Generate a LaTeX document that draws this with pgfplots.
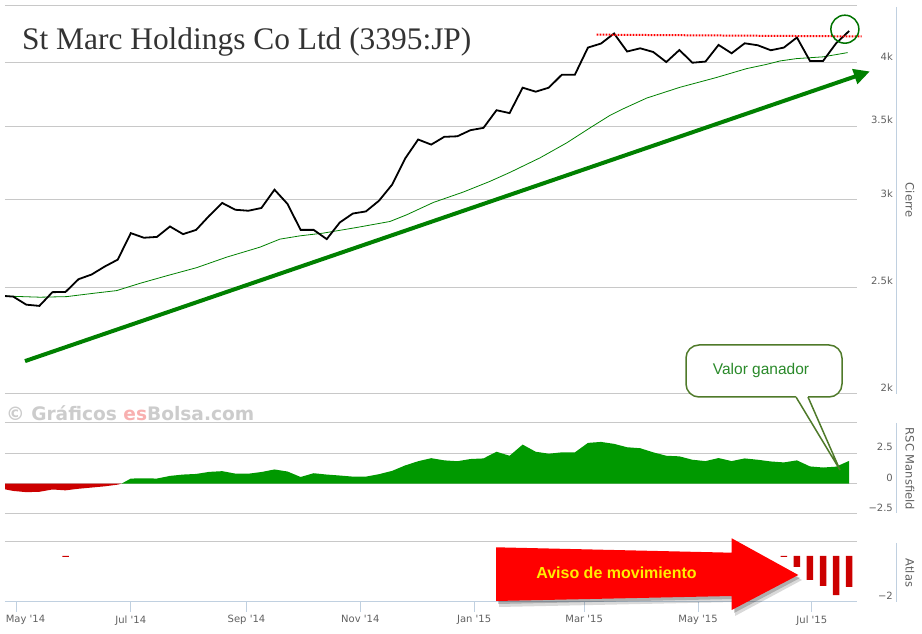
\documentclass[border=0pt]{standalone}
\usepackage{fontspec}
\setmainfont{DejaVu Sans}
\newfontfamily\serifT{Liberation Serif}
\newfontfamily\arial{Liberation Sans}
\usepackage{pgfplots}
\pgfplotsset{compat=1.18}
\usetikzlibrary{arrows.meta}
\definecolor{gridc}{HTML}{C8C8C8}
\definecolor{axisc}{HTML}{C0D0E0}
\definecolor{labc}{HTML}{606060}
\definecolor{titc}{HTML}{333333}
\definecolor{pgreen}{HTML}{008000}
\definecolor{rscG}{HTML}{009900}
\definecolor{rscR}{HTML}{CC0000}
\definecolor{callc}{HTML}{4F7A2A}
\definecolor{calltext}{HTML}{2A8A2A}
\definecolor{avisotext}{HTML}{FFEE00}
\definecolor{wmgray}{HTML}{CCCCCC}
\definecolor{wmpink}{HTML}{F8B0B0}
\newcommand{\q}{\textquotesingle}

\pgfplotsset{
  panel/.style={
    scale only axis, width=852pt,
    xmin=-6.43, xmax=450.2,
    axis line style={draw=none},
    major tick length=0pt, tick style={draw=none},
    ymajorgrids, grid style={gridc, line width=1pt},
    xtick=\empty,
    ytick pos=right, yticklabel pos=right,
    yticklabel style={anchor=east, xshift=36pt, yshift=6pt, inner sep=0pt,
      font=\fontsize{10}{12}\selectfont, text=labc},
  },
}

\begin{document}
\begin{tikzpicture}[x=1pt,y=1pt]
\useasboundingbox (0pt,0pt) rectangle (922pt,634pt);

% ---------------- Price panel ----------------
\begin{axis}[panel, at={(5pt,240pt)}, anchor=south west, height=388pt,
  ymode=log, ymin=2000, ymax=4500,
  ytick={2000,2500,3000,3500,4000,4500},
  yticklabels={2k,2.5k,3k,3.5k,4k,{}},
  clip=false]
% trend arrow
\addplot[pgreen, line width=4pt, -{Triangle[length=16pt,width=15pt]}]
  coordinates {(4.3,2142) (457.1,3925)};
% moving average
\addplot[pgreen, line width=0.8pt] coordinates {
(-6.4,2454) (12.3,2448) (26.6,2451) (40.9,2468) (53.4,2482) (65.9,2520)
(80.2,2560) (96.3,2604) (112.4,2662) (130.2,2718) (140.9,2764) (151.7,2783)
(164.1,2799) (182,2832) (199.9,2868) (208.8,2908) (223.1,2984) (239.2,3050)
(253.5,3119) (264.2,3178) (280.3,3276) (294.6,3380) (307.1,3488) (317.8,3580)
(324.9,3630) (337.5,3712) (355.3,3797) (374.6,3874) (391,3948) (401.8,3983)
(408.9,4011) (417.8,4031) (432.1,4046) (445.2,4082)};
% closing price
\addplot[black, line width=1.8pt] coordinates {
(-6.4,2454) (-2,2451) (5,2410) (12,2404) (19,2474) (26,2475) (33,2542) (40,2567)
(47,2610) (54,2648) (61,2799) (68,2772) (75,2777) (82,2838) (89,2793) (96,2818)
(103,2902) (110,2981) (117,2939) (124,2933) (131,2950) (138,3065) (145,2975)
(152,2818) (159,2818) (166,2764) (173,2862) (180,2916) (187,2929) (194,2995)
(201,3097) (208,3271) (215,3404) (222,3368) (229,3423) (236,3427) (243,3471)
(250,3488) (257,3619) (264,3597) (271,3794) (278,3762) (285,3794) (292,3898)
(299,3898) (306,4125) (313,4160) (320,4248) (327,4091) (334,4119) (341,4087)
(348,4002) (355,4104) (362,3997) (369,4006) (376,4148) (383,4076) (390,4162)
(397,4145) (404,4102) (411,4125) (418,4213) (425,4011) (432,4011) (439,4162)
(446,4271)};
% resistance line
\addplot[red, line width=2pt, dash pattern=on 1.6pt off 1.4pt]
  coordinates {(310.7,4238) (452.7,4222)};
\coordinate (circ) at (axis cs:443.7,4287);
\end{axis}
\draw[pgreen!90!black, line width=1.5pt] (circ) circle[radius=14pt];

% ---------------- RSC Mansfield panel ----------------
\begin{axis}[panel, at={(5pt,120pt)}, anchor=south west, height=91pt,
  ymin=-2.5, ymax=5, ytick={-2.5,0,2.5,5}, yticklabels={−2.5,0,2.5,{}}]
\addplot[fill=rscR, draw=none] coordinates {
(-6.4,0) (-6.4,-0.47) (-2,-0.60) (5,-0.70) (12,-0.67) (19,-0.48) (26,-0.55)
(33,-0.42) (40,-0.32) (47,-0.22) (54,-0.08) (56,0)};
\addplot[fill=rscG, draw=none] coordinates {
(56,0) (61,0.42) (68,0.44) (75,0.42) (82,0.64) (89,0.75) (96,0.80) (103,0.97)
(110,1.03) (117,0.83) (124,0.82) (131,0.96) (138,1.17) (145,1.00) (152,0.55)
(159,0.86) (166,0.75) (173,0.67) (180,0.58) (187,0.58) (194,0.78) (201,1.05)
(208,1.50) (215,1.85) (222,2.10) (229,1.92) (236,1.85) (243,2.03) (250,2.08)
(257,2.63) (264,2.30) (271,3.22) (278,2.63) (285,2.47) (292,2.58) (299,2.58)
(306,3.36) (313,3.44) (320,3.28) (327,3.00) (334,2.92) (341,2.58) (348,2.30)
(355,2.25) (362,1.97) (369,1.86) (376,2.11) (383,1.86) (390,2.08) (397,1.97)
(404,1.83) (411,1.75) (418,1.92) (425,1.42) (432,1.33) (439,1.40) (446,1.88)
(446,0)};
\end{axis}

% ---------------- Atlas panel ----------------
\begin{axis}[panel, at={(5pt,32pt)}, anchor=south west, height=60pt,
  ymin=-2, ymax=0.6, ytick={-2,0.6}, yticklabels={−2,{}},
  xtick={0,61,123,184,245,304,365,426},
  xticklabels={\hspace*{17pt}May \q14,Jul \q14,Sep \q14,Nov \q14,Jan \q15,Mar \q15,May \q15,Jul \q15},
  xtick pos=bottom,
  xticklabel style={font=\fontsize{10}{12}\selectfont, text=labc, yshift=-10pt},
  ybar, bar width=6.5pt]
\addplot[fill=rscR, draw=none] coordinates {
(26,-0.05) (411,-0.05) (418,-0.48) (425,-1.04) (432,-1.30) (439,-1.70) (446,-1.35)};
\coordinate (t1) at (axis cs:0,-2);
\coordinate (t2) at (axis cs:61,-2);
\coordinate (t3) at (axis cs:123,-2);
\coordinate (t4) at (axis cs:184,-2);
\coordinate (t5) at (axis cs:245,-2);
\coordinate (t6) at (axis cs:304,-2);
\coordinate (t7) at (axis cs:365,-2);
\coordinate (t8) at (axis cs:426,-2);
\end{axis}
\foreach \t in {t1,t2,t3,t4,t5,t6,t7,t8}{\draw[axisc, line width=1pt] (\t) -- ++(0pt,-10pt);}
\draw[axisc, line width=1pt] (5pt,32pt) -- (857pt,32pt);

% right axis lines and titles
\draw[axisc, line width=1pt] (896.7pt,627pt) -- (896.7pt,240pt);
\draw[axisc, line width=1pt] (896.7pt,211pt) -- (896.7pt,121pt);
\draw[axisc, line width=1pt] (896.7pt,91pt) -- (896.7pt,32pt);
\node[rotate=-90, text=labc, font=\fontsize{11.5}{13}\selectfont] at (910pt,434pt) {Cierre};
\node[rotate=-90, text=labc, font=\fontsize{11.5}{13}\selectfont] at (910pt,165pt) {RSC Mansfield};
\node[rotate=-90, text=labc, font=\fontsize{11.5}{13}\selectfont] at (910pt,61pt) {Atlas};

% ---------------- annotations (image coordinates) ----------------
\begin{scope}[shift={(0pt,634pt)}, yscale=-1]
\node[anchor=base west, inner sep=0pt, text=titc, font=\serifT\fontsize{31.4}{36}\selectfont]
  at (22,50) {St Marc Holdings Co Ltd (3395:JP)};
\node[anchor=west, inner sep=0pt, text=wmgray, font=\bfseries\fontsize{18.6}{21}\selectfont]
  at (6,412.7) {© Gráficos \textcolor{wmpink}{es}Bolsa.com};
% callout
\draw[rounded corners=13pt, fill=white, draw=callc, line width=1.5pt]
  (686,345) rectangle (842,397);
\fill[white] (797,394) -- (807,394) -- (808.5,398) -- (840,470) -- (795.5,398) -- cycle;
\draw[callc, line width=1.5pt, line join=miter] (796,397) -- (840,470) -- (808,397);
\node[text=calltext, font=\arial\fontsize{15.5}{18}\selectfont] at (761,370) {Valor ganador};
% big red arrow with shadow
\fill[black, opacity=0.15] (499,552) -- (735,558) -- (735,544) -- (802,580) -- (735,616) -- (735,602) -- (499,607) -- cycle;
\fill[black, opacity=0.2] (498,550) -- (734,556) -- (734,542) -- (800,578) -- (734,613) -- (734,599) -- (498,604) -- cycle;
\fill[red] (496,547.3) -- (731.7,552.7) -- (731.7,538.3) -- (798.3,575) -- (731.7,610) -- (731.7,596) -- (496,601) -- cycle;
\node[text=avisotext, font=\arial\bfseries\fontsize{16}{18}\selectfont] at (616.5,573) {Aviso de movimiento};
\end{scope}
\end{tikzpicture}
\end{document}
